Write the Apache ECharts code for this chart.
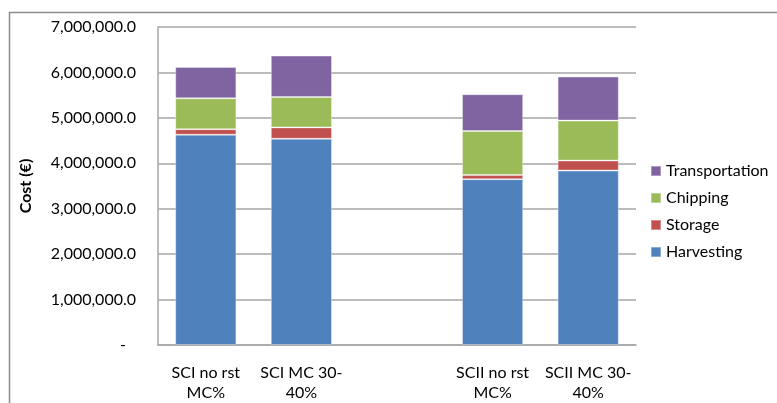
<!DOCTYPE html>
<html>
<head>
<meta charset="utf-8">
<script src="https://cdn.jsdelivr.net/npm/echarts@6/dist/echarts.min.js"></script>
<style>
  html, body { margin: 0; padding: 0; background: #fff; }
  #chart { width: 777px; height: 403px; }
</style>
</head>
<body>
<div id="chart"></div>
<script>
// Supply-chain cost breakdown per scenario (€)
const categories = ['SCI no rst\nMC%', 'SCI MC 30-\n40%', '', 'SCII no rst\nMC%', 'SCII MC 30-\n40%'];
const harvesting = [4630000, 4540000, null, 3650000, 3840000];
const storage = [120000, 250000, null, 90000, 220000];
const chipping = [680000, 670000, null, 970000, 880000];
const transportation = [690000, 910000, null, 810000, 970000];
const yTicks = { min: 0, max: 7000000, interval: 1000000 };

const FONT = 'Lato';
const chart = echarts.init(document.getElementById('chart'), null, { renderer: 'canvas' });

function bar(name, data, color) {
  return {
    name, type: 'bar', stack: 'cost', data,
    barWidth: '64%',
    itemStyle: { color, borderColor: 'rgba(255,255,255,0.35)', borderWidth: 1 }
  };
}

chart.setOption({
  animation: false,
  textStyle: { fontFamily: FONT },
  graphic: [{
    type: 'rect', silent: true, z: -1,
    shape: { x: 9.5, y: 12.5, width: 800, height: 500 },
    style: { fill: 'none', stroke: '#8c8c8c', lineWidth: 1.5 }
  }],
  grid: { left: 158, right: 141, top: 27, bottom: 56 },
  legend: {
    orient: 'vertical', left: 645, top: 158,
    itemWidth: 10, itemHeight: 10, itemGap: 11,
    icon: 'rect',
    data: ['Transportation', 'Chipping', 'Storage', 'Harvesting'],
    textStyle: { fontFamily: FONT, fontSize: 16, color: '#000' }
  },
  xAxis: {
    type: 'category', data: categories,
    axisLine: { lineStyle: { color: '#a6a6a6', width: 1.5 } },
    axisTick: { show: false },
    axisLabel: { interval: 0, color: '#000', fontSize: 16, lineHeight: 20, margin: 18 }
  },
  yAxis: {
    type: 'value', min: yTicks.min, max: yTicks.max, interval: yTicks.interval,
    name: 'Cost (€)', nameLocation: 'middle', nameGap: 124,
    nameTextStyle: { fontSize: 16, fontWeight: 'bold', color: '#000' },
    axisLine: { show: true, lineStyle: { color: '#a6a6a6', width: 1.5 } },
    axisTick: { show: false },
    splitLine: { lineStyle: { color: '#a6a6a6', width: 1.5 } },
    axisLabel: {
      color: '#000', fontSize: 16, margin: 22,
      formatter: v => v === 0 ? '{d|-}' :
        v.toLocaleString('en-US', { minimumFractionDigits: 1, maximumFractionDigits: 1 }),
      rich: { d: { fontSize: 16, color: '#000', padding: [0, 10, 0, 0] } }
    }
  },
  series: [
    bar('Harvesting', harvesting, '#4F81BD'),
    bar('Storage', storage, '#C0504D'),
    bar('Chipping', chipping, '#9BBB59'),
    bar('Transportation', transportation, '#8064A2')
  ]
});
</script>
</body>
</html>
